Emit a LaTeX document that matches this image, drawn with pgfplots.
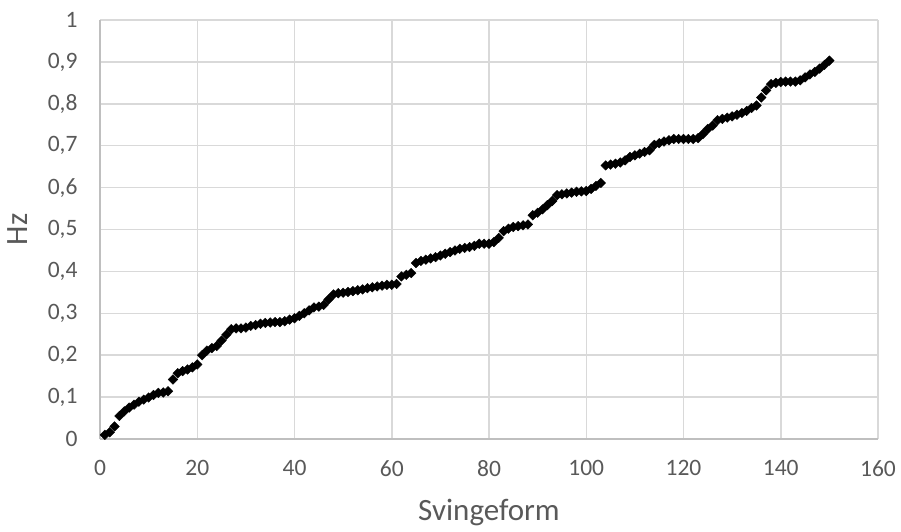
\documentclass[border=0pt]{standalone}
\usepackage{pgfplots}
\pgfplotsset{compat=1.18}
\usepackage{fontspec}
\setmainfont{Carlito}
\definecolor{tickgray}{HTML}{595959}
\definecolor{gridgray}{HTML}{D9D9D9}
\definecolor{axisgray}{HTML}{BFBFBF}
\begin{document}
\begin{tikzpicture}
\begin{axis}[
  scale only axis, width=778pt, height=419pt,
  xmin=0, xmax=160, ymin=0, ymax=1,
  xtick={0,20,40,60,80,100,120,140,160},
  ytick={0,0.1,0.2,0.3,0.4,0.5,0.6,0.7,0.8,0.9,1},
  grid=major, major grid style={gridgray, line width=1.5pt},
  axis x line*=bottom, axis y line*=left,
  axis line style={axisgray, line width=1.8pt},
  major tick length=0pt,
  /pgf/number format/assume math mode=true,
  tick label style={font=\fontsize{23.5}{28}\selectfont, text=tickgray},
  yticklabel style={/pgf/number format/.cd, use comma, fixed, precision=1, /tikz/.cd, xshift=-19pt},
  xticklabel style={yshift=-18pt},
  xlabel={Svingeform}, ylabel={Hz},
  xlabel style={font=\fontsize{31}{37}\selectfont, text=tickgray, at={(axis description cs:0.5,0)}, anchor=center, yshift=-73pt},
  ylabel style={font=\fontsize{31}{37}\selectfont, text=tickgray, at={(axis description cs:0,0.5)}, anchor=center, yshift=82pt},
  clip=false,
]
\coordinate (O) at (rel axis cs:0,0);
\addplot[only marks, mark=square*, mark size=3.4pt, mark options={rotate=45, black, fill=black}] coordinates {
(1,0.010) (2,0.016) (3,0.030) (4,0.055) (5,0.066) (6,0.075) (7,0.082) (8,0.089) (9,0.094) (10,0.099)
(11,0.105) (12,0.110) (13,0.111) (14,0.114) (15,0.142) (16,0.157) (17,0.162) (18,0.166) (19,0.171) (20,0.178)
(21,0.200) (22,0.211) (23,0.217) (24,0.222) (25,0.235) (26,0.249) (27,0.262) (28,0.264) (29,0.264) (30,0.266)
(31,0.270) (32,0.272) (33,0.275) (34,0.277) (35,0.278) (36,0.279) (37,0.279) (38,0.281) (39,0.285) (40,0.288)
(41,0.294) (42,0.300) (43,0.307) (44,0.314) (45,0.316) (46,0.320) (47,0.333) (48,0.345) (49,0.348) (50,0.349)
(51,0.351) (52,0.353) (53,0.355) (54,0.357) (55,0.360) (56,0.362) (57,0.364) (58,0.366) (59,0.368) (60,0.368)
(61,0.370) (62,0.388) (63,0.392) (64,0.396) (65,0.420) (66,0.425) (67,0.428) (68,0.431) (69,0.434) (70,0.438)
(71,0.442) (72,0.446) (73,0.450) (74,0.454) (75,0.456) (76,0.458) (77,0.461) (78,0.466) (79,0.466) (80,0.466)
(81,0.470) (82,0.480) (83,0.496) (84,0.502) (85,0.506) (86,0.508) (87,0.510) (88,0.512) (89,0.534) (90,0.540)
(91,0.548) (92,0.558) (93,0.568) (94,0.582) (95,0.584) (96,0.586) (97,0.588) (98,0.590) (99,0.591) (100,0.592)
(101,0.597) (102,0.604) (103,0.611) (104,0.653) (105,0.655) (106,0.657) (107,0.660) (108,0.665) (109,0.673) (110,0.677)
(111,0.681) (112,0.685) (113,0.689) (114,0.702) (115,0.706) (116,0.710) (117,0.713) (118,0.716) (119,0.716) (120,0.716)
(121,0.716) (122,0.716) (123,0.718) (124,0.728) (125,0.740) (126,0.748) (127,0.761) (128,0.764) (129,0.767) (130,0.770)
(131,0.774) (132,0.778) (133,0.783) (134,0.790) (135,0.796) (136,0.815) (137,0.832) (138,0.847) (139,0.850) (140,0.852)
(141,0.853) (142,0.853) (143,0.853) (144,0.856) (145,0.863) (146,0.870) (147,0.876) (148,0.884) (149,0.893) (150,0.903)
};
\end{axis}
\pgfresetboundingbox
\path[use as bounding box] (O) ++(-100pt,-93pt) rectangle ++(901pt,532pt);
\end{tikzpicture}
\end{document}
